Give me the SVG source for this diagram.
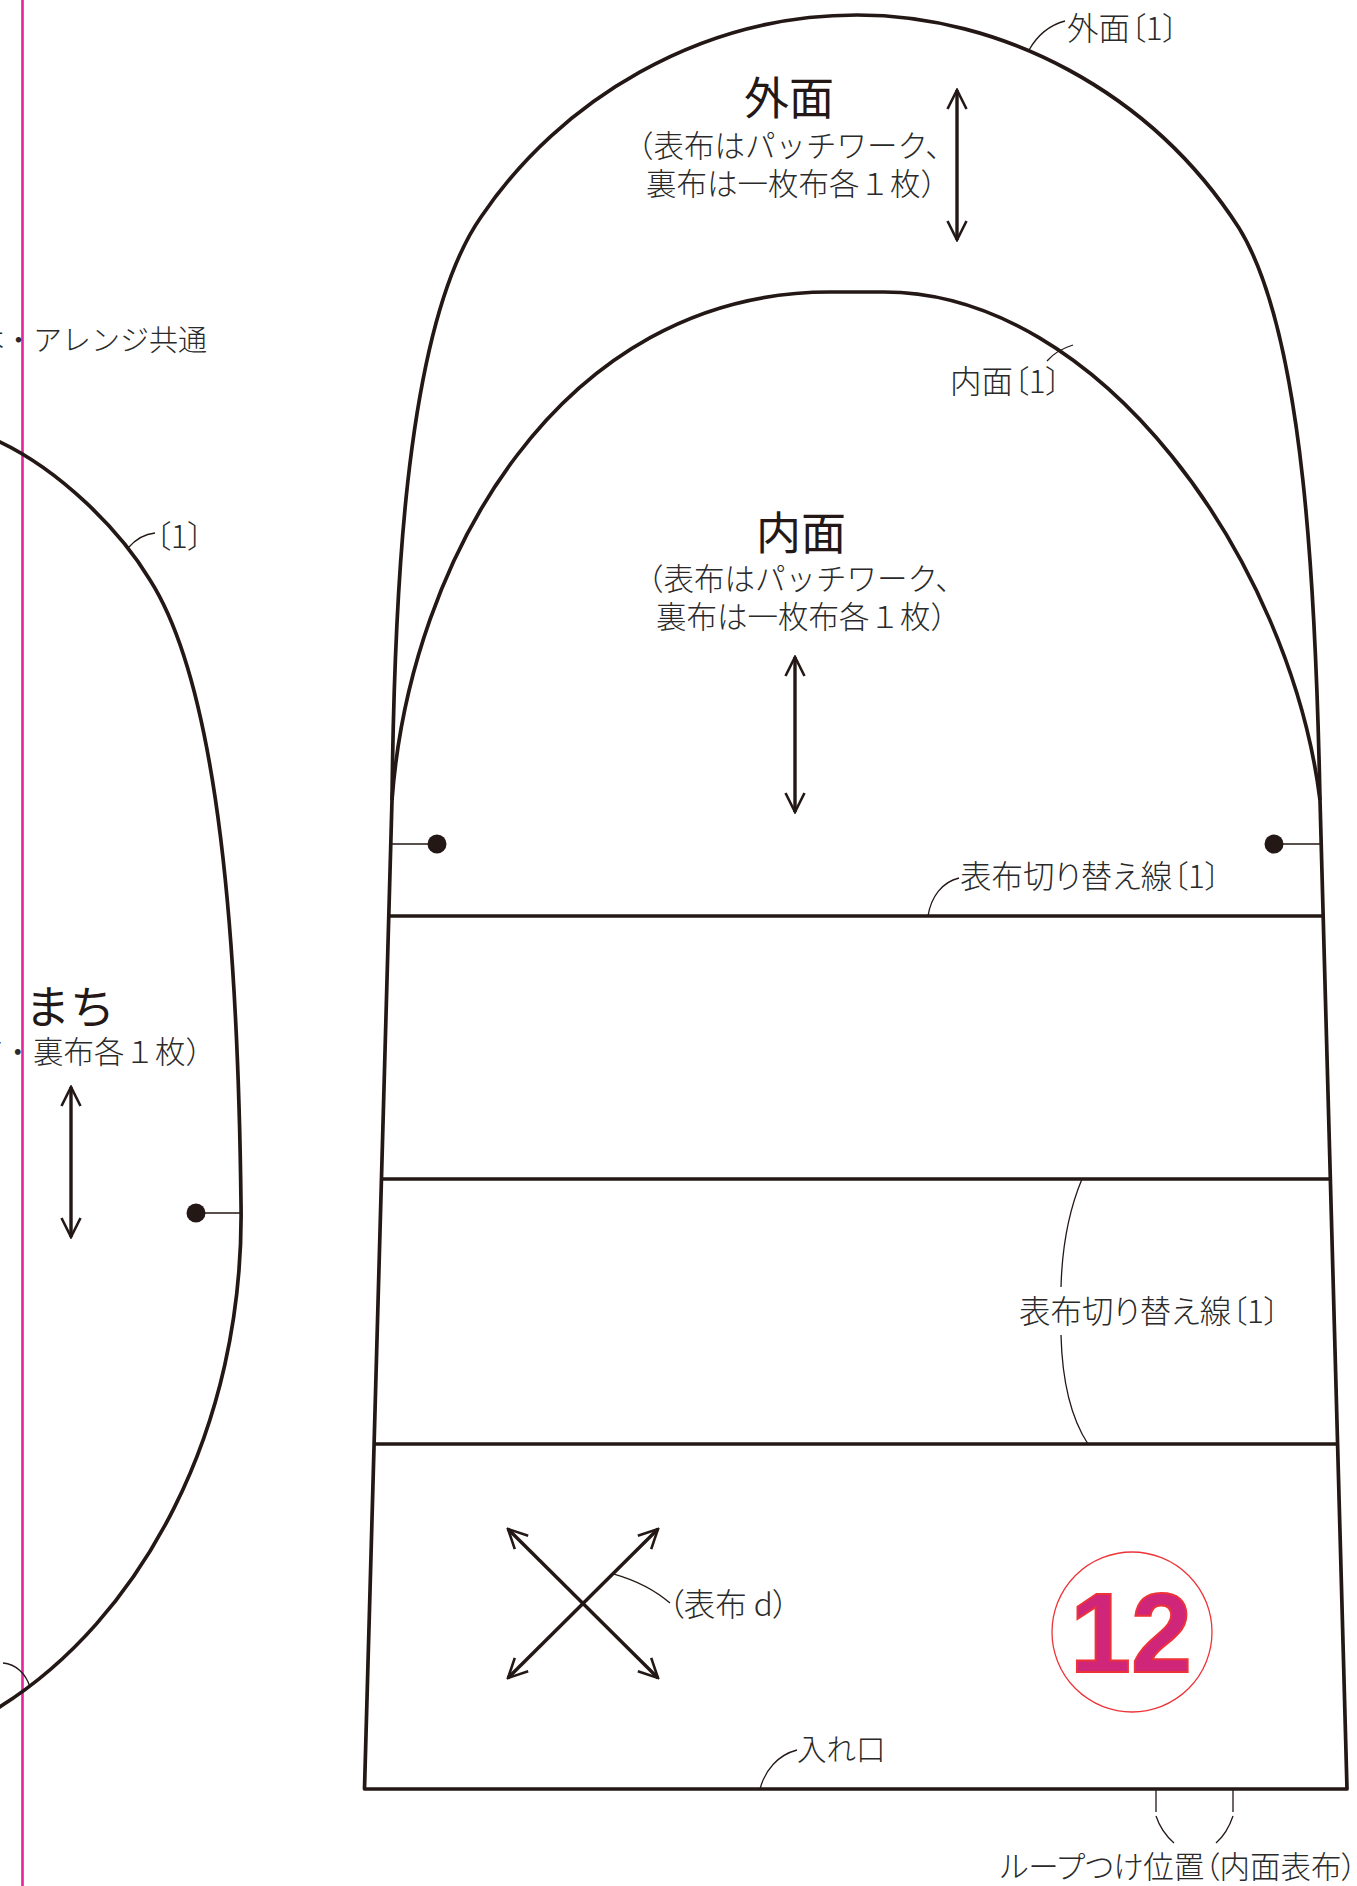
<svg xmlns="http://www.w3.org/2000/svg" width="1357" height="1886" viewBox="0 0 1357 1886">
<defs>
<style>
.o{fill:none;stroke:#231815;stroke-width:3.7;stroke-linejoin:round}
.l{fill:none;stroke:#231815;stroke-width:1.3}
.a{fill:none;stroke:#231815;stroke-width:3.4;marker-start:url(#h);marker-end:url(#h)}
.d{fill:#231815}
.t{font-family:"Noto Sans CJK JP","Liberation Sans",sans-serif;font-weight:300;font-size:29px;fill:#2a2a2a}
.p{font-size:30.5px}
.b{font-feature-settings:"palt" 1;font-size:31.5px}
.h{font-family:"Liberation Serif","Noto Sans CJK JP",serif;font-weight:400;font-size:45px;fill:#231815}
</style>
<marker id="h" viewBox="-22 -11 24 22" refX="0" refY="0" markerUnits="userSpaceOnUse" markerWidth="24" markerHeight="22" orient="auto-start-reverse"><path d="M-19,-9.5L0,0L-19,9.5" fill="none" stroke="#231815" stroke-width="2.6"/></marker>
</defs>
<rect width="1357" height="1886" fill="#fff"/>
<line x1="22.5" y1="0" x2="22.5" y2="1886" stroke="#e5239a" stroke-width="2.6"/>
<g id="connectors">
<path class="l" d="M1029,50C1037,36 1050,25 1065,21"/>
<path class="l" d="M1047,361C1053,354 1063,348 1073,345"/>
<path class="l" d="M928,916C931,897 942,882 959,878"/>
<path class="l" d="M1082,1179C1069,1210 1062,1250 1061,1287"/>
<path class="l" d="M1061,1335C1062,1375 1069,1415 1088,1444"/>
<path class="l" d="M614,1574C635,1580 655,1590 670,1603"/>
<path class="l" d="M760,1789C765,1770 778,1755 797,1750"/>
<path class="l" d="M1156,1790V1812M1156,1816C1160,1828 1166,1836 1174,1843"/>
<path class="l" d="M1233,1790V1812M1233,1816C1229,1828 1224,1836 1216,1843"/>
<path class="l" d="M128,548C135,540 144,534 155,533"/>
<path class="l" d="M3,1663C16,1664 26,1674 30,1687"/>
<path class="l" d="M392,844H437M1320,844H1274M241,1213H196"/>
</g>
<g id="outer-panel">
<path class="o" d="M392,800C394,620 402,330 481,217C560,100 700,15 857,15C1000,15 1150,90 1239,228C1305,335 1316,600 1320,800"/>
<text class="h" x="789" y="115" text-anchor="middle">外面</text>
<text class="t p" x="623" y="157">（表布はパッチワーク、</text>
<text class="t p" x="646" y="195">裏布は一枚布各１枚）</text>
<text class="t b" x="1067" y="40">外面〔1〕</text>
<line class="a" x1="957" y1="90" x2="957" y2="240"/>
</g>
<g id="inner-panel">
<path class="o" d="M392,800C410,560 560,292 830,292L884,292C1100,292 1290,560 1320,800"/>
<text class="h" x="801" y="550" text-anchor="middle">内面</text>
<text class="t p" x="633" y="590">（表布はパッチワーク、</text>
<text class="t p" x="656" y="628">裏布は一枚布各１枚）</text>
<text class="t b" x="950" y="393">内面〔1〕</text>
<line class="a" x1="795" y1="657" x2="795" y2="812"/>
<circle class="d" cx="437" cy="844" r="9.5"/>
<circle class="d" cx="1274" cy="844" r="9.5"/>
</g>
<g id="body-panel">
<path class="o" d="M392,800L364.5,1789H1347L1320,800"/>
<path class="o" d="M389,916H1322M381,1179H1329M374,1444H1338"/>
<text class="t b" x="960" y="888">表布切り替え線〔1〕</text>
<text class="t b" x="1019" y="1323">表布切り替え線〔1〕</text>
<line class="a" x1="508" y1="1529" x2="658" y2="1678"/>
<line class="a" x1="658" y1="1529" x2="508" y2="1678"/>
<text class="t b" x="668" y="1616">（表布 d）</text>
<text class="t" x="797" y="1760" style="font-size:29.5px">入れ口</text>
<text class="t b" x="1000" y="1878" style="font-size:30.5px">ループつけ位置（内面表布）</text>
</g>
<g id="badge-12">
<circle cx="1132" cy="1632" r="80" fill="none" stroke="#ee3338" stroke-width="1.3"/>
<text x="1131" y="1672" text-anchor="middle" textLength="122" lengthAdjust="spacingAndGlyphs" font-family="'Liberation Sans',Arial,sans-serif" font-weight="700" font-size="113" fill="#d0267a" stroke="#ee3338" stroke-width="2">12</text>
</g>
<g id="gusset-panel">
<path class="o" d="M-2,441C60,470 120,530 150,580C220,690 238,950 241,1203C245,1430 140,1620 -2,1708"/>
<text class="t" x="207" y="351" text-anchor="end">本・アレンジ共通</text>
<text class="t b" x="155" y="548">〔1〕</text>
<text class="h" x="25" y="1024">まち</text>
<text class="t p" x="216" y="1063" text-anchor="end">表布・裏布各１枚）</text>
<line class="a" x1="71" y1="1087" x2="71" y2="1237"/>
<circle class="d" cx="196" cy="1213" r="9.5"/>
</g>
</svg>
